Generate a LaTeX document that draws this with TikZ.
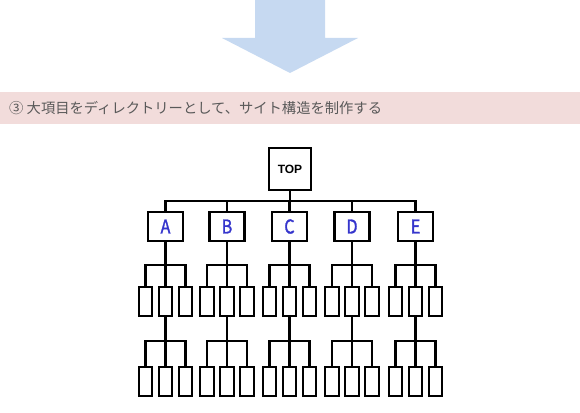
\documentclass[tikz,border=0pt]{standalone}
\usepackage{fontspec}
\setmainfont{Liberation Sans}
\newfontfamily\jpfont{Noto Sans CJK JP}
\newfontfamily\letterfont[FakeBold=1.5, FakeStretch=0.85]{Noto Sans CJK JP}
\definecolor{arrowblue}{HTML}{C6D9F1}
\definecolor{bandpink}{HTML}{F2DCDB}
\definecolor{bandtext}{HTML}{595959}
\definecolor{letterblue}{HTML}{3535CC}
\tikzset{
  linew/.style={line width=2.4pt, black},
  topbox/.style={draw, linew, minimum width=41.5pt, minimum height=41.5pt, inner sep=0pt, font=\fontsize{12}{12}\selectfont\bfseries},
  catbox/.style={draw, linew, minimum width=35pt, minimum height=29pt, inner sep=0pt, text=letterblue, font=\letterfont\fontsize{19}{19}\selectfont},
  leafbox/.style={draw, linew, minimum width=13.5pt, minimum height=29pt, inner sep=0pt},
  conn/.style={linew}
}
\begin{document}
\begin{tikzpicture}[x=1pt,y=-1pt]
\useasboundingbox (0,0) rectangle (580,412);
% big arrow
\fill[arrowblue] (255,0) -- (325,0) -- (325,38) -- (358,38) -- (290,73) -- (222,38) -- (255,38) -- cycle;
% band
\fill[bandpink] (0,92) rectangle (580,124);
\node[anchor=west, inner sep=0pt, text=bandtext, font=\jpfont\fontsize{14.3}{15}\selectfont] (title) at (9,108) {③ 大項目をディレクトリーとして、サイト構造を制作する};
% tree
\node[topbox] (top) at (290,169) {TOP};
\coordinate (bus) at (290,201);
\foreach \n/\x in {A/165.5,B/227,C/289.5,D/352,E/415.5}{
  \node[catbox] (\n) at (\x,226.5) {\n};
  \draw[conn] (top.south) -- (top.south |- bus) -| (\n.north);
  \coordinate (\n b1) at (\x,265);
  \coordinate (\n b2) at (\x,341);
  \foreach \i/\dx in {1/-20,2/0,3/20}{
    \node[leafbox] (\n m\i) at (\x+\dx,301.5) {};
    \node[leafbox] (\n g\i) at (\x+\dx,381.5) {};
  }
  \foreach \i in {1,2,3}{
    \draw[conn] (\n.south) -- (\n b1) -| (\n m\i.north);
    \draw[conn] (\n m2.south) -- (\n b2) -| (\n g\i.north);
  }
}
\end{tikzpicture}
\end{document}
